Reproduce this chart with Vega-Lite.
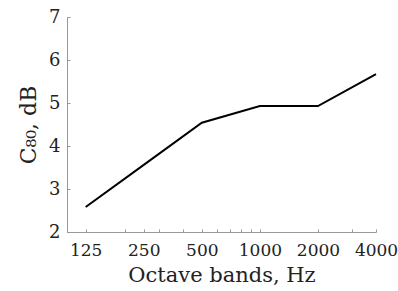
{
  "$schema": "https://vega.github.io/schema/vega-lite/v6.json",
  "width": 309,
  "height": 215,
  "autosize": "none",
  "padding": {"left": 67, "top": 17, "right": 22, "bottom": 59},
  "background": "white",
  "data": {"values": [
    {"band": 125, "c80": 2.58},
    {"band": 250, "c80": 3.56},
    {"band": 500, "c80": 4.54},
    {"band": 1000, "c80": 4.93},
    {"band": 2000, "c80": 4.93},
    {"band": 4000, "c80": 5.67}
  ]},
  "mark": {"type": "line", "color": "black", "strokeWidth": 2},
  "encoding": {
    "x": {
      "field": "band", "type": "quantitative",
      "scale": {"type": "log", "domain": [100, 4000], "nice": false},
      "axis": {
        "title": "Octave bands, Hz",
        "values": [100, 125, 200, 250, 300, 400, 500, 600, 700, 800, 900, 1000, 2000, 3000, 4000],
        "labelExpr": "indexof([125,250,500,1000,2000,4000], datum.value) >= 0 ? datum.label : ''",
        "format": "d",
        "grid": false,
        "tickSize": -3,
        "labelPadding": 13,
        "labelFont": "DejaVu Serif",
        "labelFontSize": 17,
        "labelColor": "#222",
        "titleFont": "DejaVu Serif",
        "titleFontSize": 21,
        "titleFontWeight": "normal",
        "titleColor": "#222",
        "titlePadding": 6,
        "domainColor": "#999",
        "tickColor": "#999",
        "labelFlush": false,
        "labelOverlap": false
      }
    },
    "y": {
      "field": "c80", "type": "quantitative",
      "scale": {"domain": [2, 7], "nice": false},
      "axis": {
        "title": "C₈₀, dB",
        "values": [2, 3, 4, 5, 6, 7],
        "grid": false,
        "tickSize": -3,
        "labelPadding": 10,
        "labelFont": "DejaVu Serif",
        "labelFontSize": 18,
        "labelColor": "#222",
        "titleFont": "DejaVu Serif",
        "titleFontSize": 22,
        "titleFontWeight": "normal",
        "titleColor": "#222",
        "titlePadding": 8,
        "domainColor": "#999",
        "tickColor": "#999",
        "labelFlush": false
      }
    }
  },
  "config": {"view": {"stroke": null}}
}
